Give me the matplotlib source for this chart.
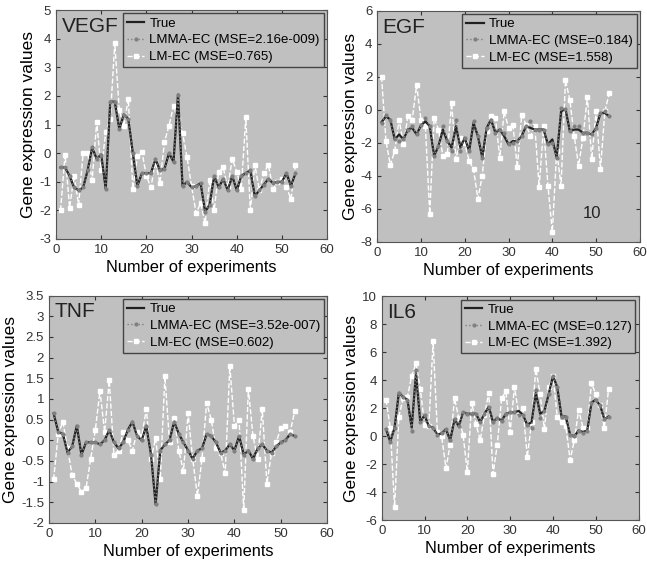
import matplotlib.pyplot as plt
import numpy as np

plt.rcParams['font.family'] = ['Liberation Sans', 'DejaVu Sans']

x = np.arange(1, 54)

# VEGF
vegf_true = [-0.5, -0.5, -0.8, -1.2, -1.3, -1.2, -0.6, 0.2, -0.2, -0.05,
             -1.25, 1.8, 1.8, 0.85, 1.35, 1.2, 0.0, -1.15, -0.7, -0.7,
             -0.7, -0.2, -0.6, -0.55, 0.0, -0.3, 2.05, -1.15, -1.0, -1.2,
             -1.15, -1.05, -2.05, -1.8, -0.8, -1.2, -0.9, -1.3, -0.8, -1.3,
             -0.8, -0.7, -0.6, -1.5, -1.3, -1.1, -0.9, -1.05, -1.0, -1.0,
             -0.7, -1.15, -0.7]
vegf_lmma = vegf_true
vegf_lm = [-2.0, -0.05, -1.9, -0.8, -1.8, 0.0, 0.0, -0.95, 1.1, -0.6,
           0.75, 1.2, 3.85, 1.5, 0.95, 1.9, -1.25, -0.1, 0.05, -0.8,
           -1.2, -0.3, -1.05, 0.4, 0.95, 1.65, 1.2, 0.7, -0.15, -1.15,
           -2.1, -1.75, -2.45, -0.95, -2.0, -0.65, -0.5, -1.2, -0.2, -0.65,
           -1.25, 1.25, -2.0, -0.4, -1.3, -0.7, -0.4, -1.25, -1.0, -0.9,
           -1.2, -1.6, -0.4]

# EGF
egf_true = [-0.75, -0.4, -0.6, -1.8, -1.5, -1.8, -1.2, -1.1, -1.5, -0.95,
            -0.7, -1.0, -2.8, -2.2, -1.2, -1.9, -2.3, -1.0, -2.3, -1.7,
            -2.5, -0.8, -1.6, -2.9, -1.1, -0.6, -1.4, -1.2, -1.6, -2.1,
            -1.9, -1.9, -1.6, -1.0, -1.1, -1.2, -1.2, -1.2, -2.1, -1.8,
            -2.9, -0.1, 0.05, -1.3, -1.2, -1.2, -1.4, -1.4, -1.5, -1.1,
            -0.2, -0.2, -0.4]
egf_lmma = [-0.8, -0.3, -0.6, -1.8, -1.9, -1.8, -1.2, -1.0, -1.5, -0.95,
            -0.5, -1.0, -2.8, -2.2, -1.0, -1.9, -2.5, -0.6, -2.5, -1.7,
            -2.5, -0.7, -1.6, -2.9, -1.1, -0.6, -1.4, -1.2, -1.4, -2.1,
            -2.0, -1.9, -1.6, -1.0, -0.7, -1.2, -1.2, -1.2, -2.1, -2.0,
            -2.9, 0.1, 0.05, -1.3, -1.0, -1.0, -1.4, -1.4, -1.5, -1.1,
            -0.2, -0.1, -0.4]
egf_lm = [2.0, -1.9, -3.35, -2.5, -0.6, -2.1, -0.4, -0.6, 1.5, -0.6,
          -1.0, -6.3, -0.5, -1.2, -2.8, -2.7, 0.4, -3.0, -1.7, -2.0,
          -3.1, -3.6, -5.4, -4.0, -1.3, -0.4, -0.5, -2.9, -0.1, -1.1,
          -0.9, -3.5, -0.3, -0.9, -1.6, -1.0, -4.7, -1.0, -4.6, -7.4,
          -2.5, -4.6, 1.8, 0.6, -1.6, -3.4, -1.7, 0.8, -3.0, -0.1,
          -3.6, -0.1, 1.0]

# TNF
tnf_true = [0.65, 0.2, 0.15, -0.3, -0.15, 0.35, -0.35, -0.05, -0.05, -0.05,
            -0.1, 0.0, 0.25, -0.05, -0.2, -0.05, 0.25, 0.45, 0.1, 0.0,
            0.35, -0.35, -1.55, -0.25, -0.1, 0.0, 0.45, 0.15, -0.05, -0.25,
            -0.45, -0.25, -0.2, 0.15, 0.1, -0.05, -0.3, -0.25, -0.1, -0.25,
            0.1, -0.35, -0.25, -0.45, -0.2, -0.1, -0.25, -0.3, -0.15, -0.05,
            0.0, 0.15, 0.1]
tnf_lmma = tnf_true
tnf_lm = [-0.95, 0.15, 0.45, -0.2, -0.85, -1.05, -1.25, -1.15, -0.45, 0.25,
          1.2, 0.2, 1.45, -0.35, -0.25, 0.2, 0.0, -0.25, 0.2, 0.1,
          0.75, -0.45, 0.05, -0.95, 1.55, -0.05, 0.55, -0.25, -0.75, 0.65,
          -0.45, -1.35, -0.45, 0.9, 0.5, -0.2, -0.3, -0.8, 1.8, 0.35,
          0.5, -1.7, 1.25, 0.1, -0.45, 0.75, -1.05, -0.3, -0.05, 0.3,
          0.35, 0.2, 0.7]

# IL6
il6_true = [0.5, -0.4, 0.6, 3.1, 2.8, 2.6, 0.6, 4.5, 1.0, 1.5,
            0.7, 0.6, 0.1, 0.2, 0.5, -0.3, 1.2, 0.7, 1.7, 1.6,
            1.6, 1.6, 1.0, 1.6, 2.1, 1.0, 1.3, 1.1, 1.6, 1.7,
            1.7, 1.8, 1.5, 0.8, 1.0, 3.1, 1.6, 1.8, 3.0, 4.3,
            3.5, 1.4, 1.4, 0.1, 0.0, 0.4, 0.3, 0.4, 2.4, 2.6,
            2.2, 1.2, 1.4]
il6_lmma = [0.5, -0.4, 0.6, 3.1, 2.8, 2.6, 0.4, 4.7, 1.0, 1.5,
            0.7, 0.6, 0.1, 0.2, 0.5, -0.3, 1.2, 0.7, 1.7, 1.6,
            1.6, 1.6, 1.0, 1.6, 2.1, 1.0, 1.3, 1.1, 1.6, 1.7,
            1.7, 1.5, 1.5, 0.8, 0.6, 3.3, 1.3, 1.8, 3.0, 4.3,
            3.5, 1.4, 1.4, 0.1, 0.0, 0.4, 0.2, 0.4, 2.4, 2.6,
            2.2, 1.2, 1.4]
il6_lm = [2.6, 0.6, -5.1, 1.4, 2.7, 2.8, 4.3, 5.2, 3.4, 0.8,
          0.7, 6.8, 0.3, 0.0, -2.3, -0.6, 2.7, 1.3, 0.1, -2.6,
          2.4, 0.9, -0.3, 1.5, 3.1, -2.7, -0.6, 2.7, 3.2, 0.3,
          3.5, 1.6, 2.0, -1.5, 1.0, 4.8, 3.0, 0.5, 3.5, 4.3,
          1.4, 1.0, 0.7, -1.7, -0.3, 1.9, 0.6, 0.6, 3.8, 3.0,
          2.2, 0.6, 3.4]

panels = [
    ('VEGF', vegf_true, vegf_lmma, vegf_lm, '2.16e-009', '0.765', (-3, 5), 1),
    ('EGF', egf_true, egf_lmma, egf_lm, '0.184', '1.558', (-8, 6), 2),
    ('TNF', tnf_true, tnf_lmma, tnf_lm, '3.52e-007', '0.602', (-2, 3.5), 0.5),
    ('IL6', il6_true, il6_lmma, il6_lm, '0.127', '1.392', (-6, 10), 2),
]
boxes = [
    [0.0866, 0.574, 0.419, 0.408],
    [0.583, 0.569, 0.406, 0.412],
    [0.0757, 0.068, 0.430, 0.405],
    [0.590, 0.073, 0.397, 0.399],
]

fig = plt.figure(figsize=(6.47, 5.61), dpi=100)

for (name, tr, lmma, lm, mse1, mse2, ylim, step), box in zip(panels, boxes):
    ax = fig.add_axes(box)
    ax.set_facecolor('#c0c0c0')
    l3, = ax.plot(x, lm, color='white', ls='--', lw=1.0, marker='s', ms=2.2,
                  mec='white', mfc='white')
    l1, = ax.plot(x, tr, color='#202020', lw=1.6)
    l2, = ax.plot(x, lmma, color='#808080', ls=':', lw=1, marker='o', ms=2,
                  mec='#808080', mfc='#808080')
    ax.set_xlim(0, 60)
    ax.set_ylim(*ylim)
    ax.set_xticks(range(0, 61, 10))
    yt = np.arange(ylim[0], ylim[1] + step / 2, step)
    ax.set_yticks(yt)
    ax.set_yticklabels(['%g' % v for v in yt])
    ax.tick_params(direction='in', top=True, right=True, labelsize=9.5,
                   colors='#333333', length=3)
    for s in ax.spines.values():
        s.set_color('#555555')
    ax.set_xlabel('Number of experiments', fontsize=11.8, labelpad=3)
    ax.set_ylabel('Gene expression values', fontsize=12.5, labelpad=2)
    ax.text(0.02, 0.97, name, transform=ax.transAxes, fontsize=15,
            va='top', ha='left', color='#222222')
    leg = ax.legend([l1, l2, l3],
                    ['True', 'LMMA-EC (MSE=%s)' % mse1, 'LM-EC (MSE=%s)' % mse2],
                    loc='upper right', fontsize=9.5, fancybox=False,
                    handlelength=1.3, handletextpad=0.4, borderpad=0.3,
                    labelspacing=0.35, borderaxespad=0.25, framealpha=1)
    leg.get_frame().set_facecolor('#c0c0c0')
    leg.get_frame().set_edgecolor('#444444')
    leg.get_frame().set_linewidth(1)
    if name == 'EGF':
        ax.text(49, -6.3, '10', fontsize=12, ha='center', va='center',
                color='#222222')

fig.savefig('out.png', dpi=100)
